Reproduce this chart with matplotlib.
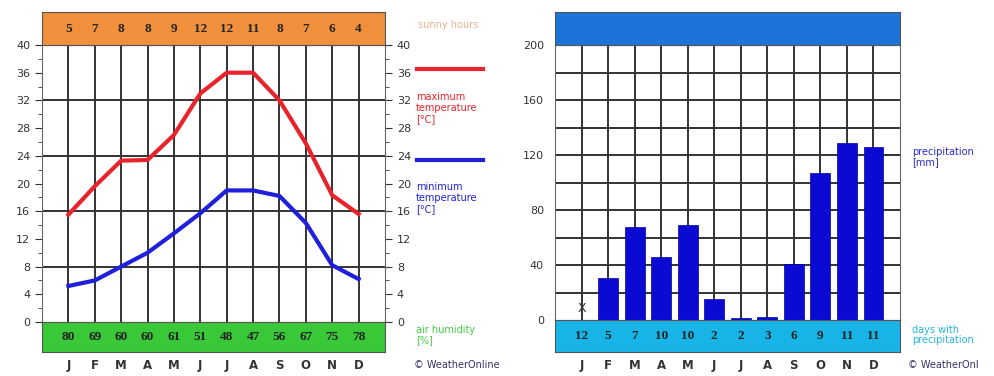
import numpy as np
import matplotlib
matplotlib.use("Agg")
import matplotlib.pyplot as plt

months = ["J", "F", "M", "A", "M", "J", "J", "A", "S", "O", "N", "D"]
sunny_hours = [5, 7, 8, 8, 9, 12, 12, 11, 8, 7, 6, 4]
humidity = [80, 69, 60, 60, 61, 51, 48, 47, 56, 67, 75, 78]
max_temp = [15.5, 19.6, 23.3, 23.4, 27.0, 33.0, 36.0, 36.0, 32.0, 25.8, 18.3, 15.6]
min_temp = [5.2, 6.0, 8.0, 10.0, 12.8, 15.7, 19.0, 19.0, 18.2, 14.3, 8.2, 6.2]
precip = [0, 30.5, 67.5, 46, 69, 15, 1.5, 2, 41, 107, 129, 126]
rain_days = [12, 5, 7, 10, 10, 2, 2, 3, 6, 9, 11, 11]

W, H = 995, 376
fig = plt.figure(figsize=(W / 100, H / 100), dpi=100)
fig.patch.set_facecolor("white")

x = np.arange(12)
grid_c = "#333333"


def fbox(x0, y0, x1, y1):
    # pixel box (top-left origin) -> figure rect
    return [x0 / W, 1 - y1 / H, (x1 - x0) / W, (y1 - y0) / H]


def band(rect, color, values, txtcolor="#222222", months_below=False):
    b = fig.add_axes(rect)
    b.set_facecolor(color)
    b.set_xlim(-1, 12)
    b.set_ylim(0, 1)
    for i, v in enumerate(values):
        b.text(i, 0.5, str(v), ha="center", va="center", fontsize=9.5,
               fontweight="bold", color=txtcolor, family="Liberation Serif")
    b.set_yticks([])
    if months_below:
        b.set_xticks(x)
        b.set_xticklabels(months, fontsize=8.5, fontweight="bold", color="#333333")
        b.tick_params(axis="x", length=0, pad=5)
    else:
        b.set_xticks([])
    for s in b.spines.values():
        s.set_color("#555555")
        s.set_linewidth(0.8)
    return b


# ---------------- left: temperature ----------------
ax = fig.add_axes(fbox(42, 45, 385, 322))
ax.set_xlim(-1, 12)
ax.set_ylim(0, 40)
for i in x:
    ax.axvline(i, color=grid_c, lw=1.4, zorder=1)
for yv in [8, 16, 24, 32]:
    ax.axhline(yv, color=grid_c, lw=1.4, zorder=1)
ax.plot(x, max_temp, color="#e8232b", lw=3, zorder=3, solid_joinstyle="round")
ax.plot(x, min_temp, color="#1f1fdc", lw=3, zorder=3, solid_joinstyle="round")
ax.set_xticks([])
ax.set_yticks(np.arange(0, 41, 4))
ax.set_yticks(np.arange(0, 41, 2), minor=True)
ax.tick_params(axis="y", which="both", direction="out", labelsize=8,
               colors="#333333", left=True, right=True, labelright=True)
ax.tick_params(axis="y", which="major", length=5)
ax.tick_params(axis="y", which="minor", length=3)
for s in ax.spines.values():
    s.set_color("#666666")
    s.set_linewidth(0.8)

band(fbox(42, 12, 385, 45), "#f0903c", sunny_hours)
band(fbox(42, 322, 385, 352), "#38c838", humidity, months_below=True)

fs = 7
fig.text(418 / W, 1 - 25 / H, "sunny hours", color="#e8b48a", fontsize=fs, va="center")
fig.add_artist(plt.Line2D([417 / W, 483 / W], [1 - 69 / H, 1 - 69 / H], color="#e8232b", lw=3))
fig.text(416 / W, 1 - 108 / H, "maximum\ntemperature\n[°C]", color="#e8232b", fontsize=fs,
         va="center", linespacing=1.1)
fig.add_artist(plt.Line2D([417 / W, 483 / W], [1 - 160 / H, 1 - 160 / H], color="#1f1fdc", lw=3))
fig.text(416 / W, 1 - 198 / H, "minimum\ntemperature\n[°C]", color="#1f1fdc", fontsize=fs,
         va="center", linespacing=1.1)
fig.text(416 / W, 1 - 335 / H, "air humidity\n[%]", color="#44cc44", fontsize=fs,
         va="center", linespacing=1.1)
fig.text(414 / W, 1 - 365 / H, "© WeatherOnline", color="#333366", fontsize=fs, va="center")

# ---------------- right: precipitation ----------------
ax2 = fig.add_axes(fbox(555, 45, 900, 320))
ax2.set_xlim(-1, 12)
ax2.set_ylim(0, 200)
for i in x:
    ax2.axvline(i, color=grid_c, lw=1.4, zorder=1)
for yv in range(20, 200, 20):
    ax2.axhline(yv, color=grid_c, lw=1.4, zorder=1)
ax2.bar(x, precip, width=0.75, color="#0a0ad2", edgecolor="#0000a0", lw=0.5, zorder=3)
ax2.text(0, 8, "X", ha="center", va="center", fontsize=9, color="#333333", zorder=4)
ax2.set_xticks([])
ax2.set_yticks(np.arange(0, 201, 40))
ax2.tick_params(axis="y", labelsize=8, colors="#333333", length=0, pad=8)
for s in ax2.spines.values():
    s.set_color("#666666")
    s.set_linewidth(0.8)

band(fbox(555, 12, 900, 45), "#1c74d8", [])
band(fbox(555, 320, 900, 352), "#18b4e8", rain_days, months_below=True)

fig.text(912 / W, 1 - 157 / H, "precipitation\n[mm]", color="#2a2ad0", fontsize=fs,
         va="center", linespacing=1.1)
fig.text(912 / W, 1 - 335 / H, "days with\nprecipitation", color="#22b8e0", fontsize=fs,
         va="center", linespacing=1.1)
fig.text(908 / W, 1 - 365 / H, "© WeatherOnl", color="#333366", fontsize=fs, va="center")

fig.savefig("out.png", dpi=100)
